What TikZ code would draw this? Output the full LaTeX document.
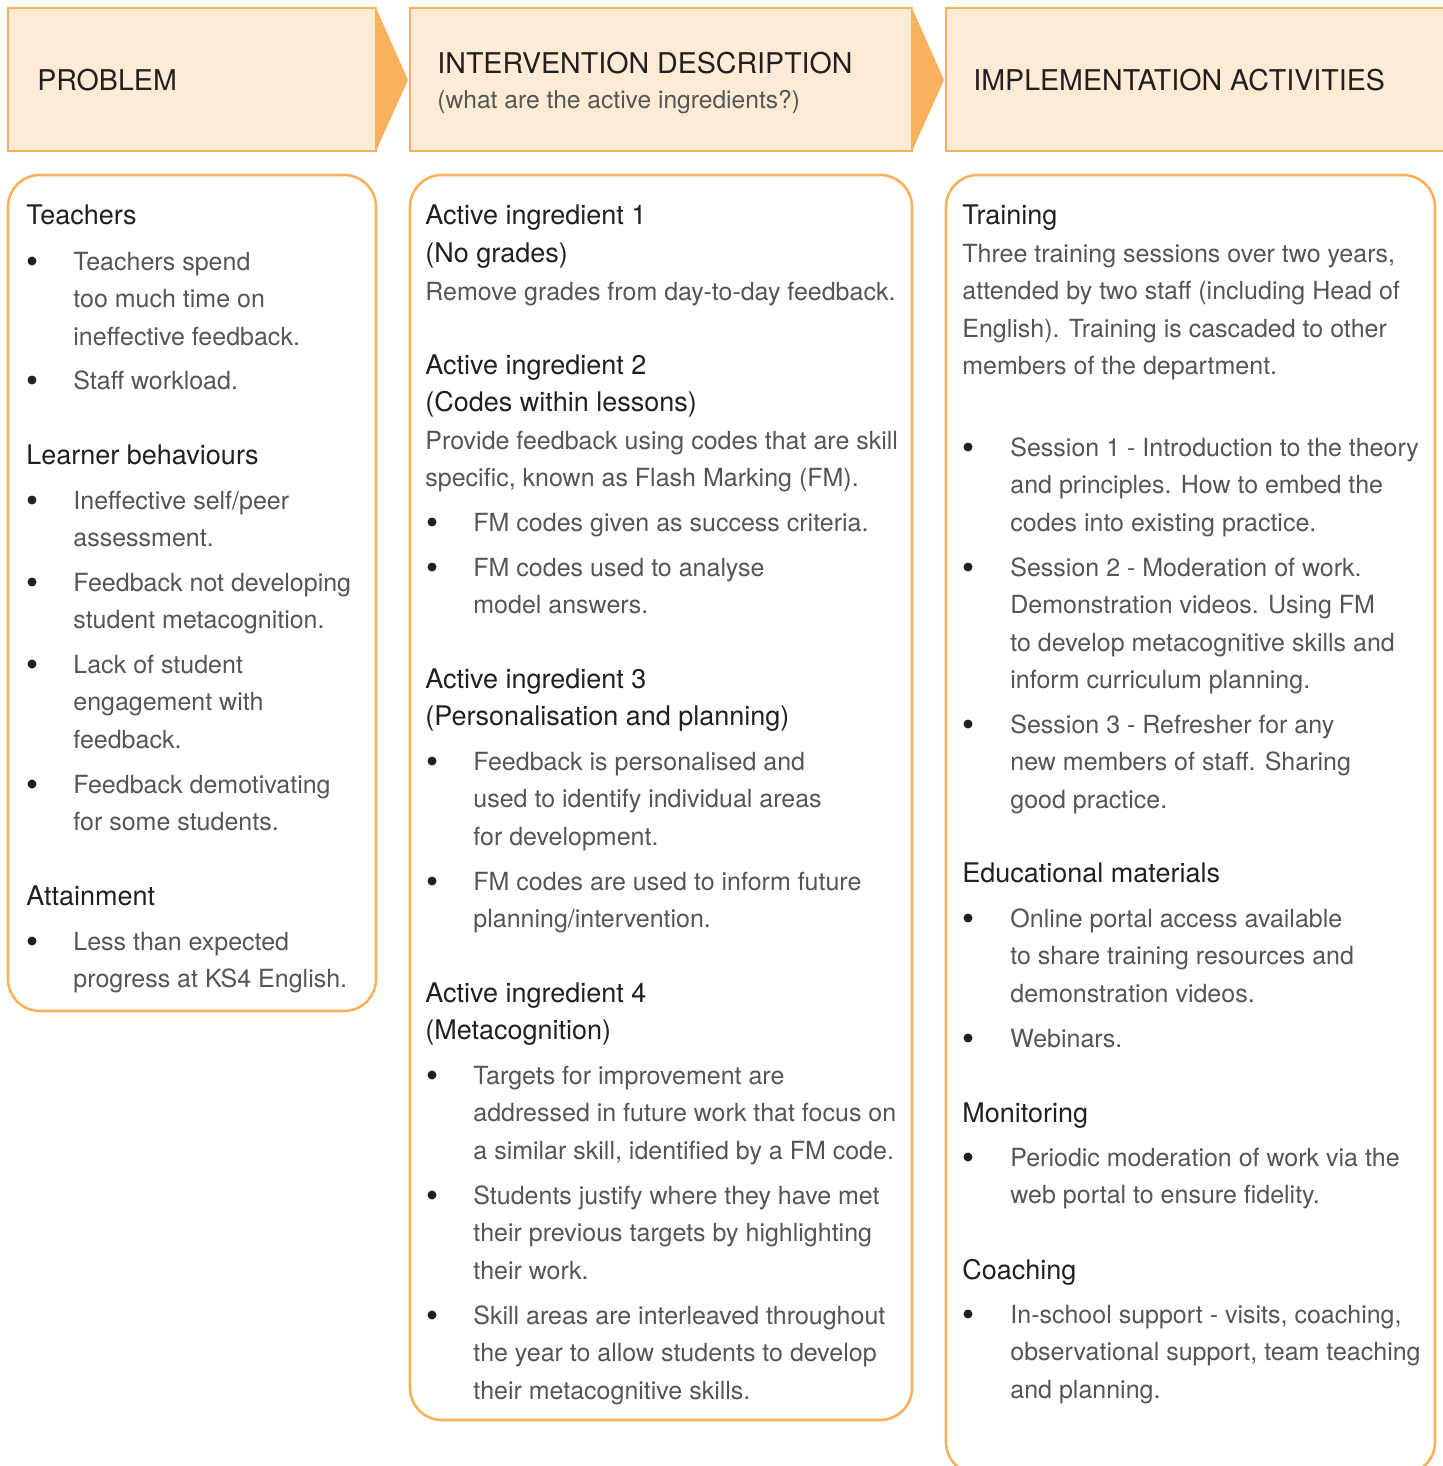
\documentclass[tikz,border=0pt]{standalone}
\usepackage{fontspec}
\setmainfont{TeX Gyre Heros}
\usetikzlibrary{positioning}

\definecolor{bandfill}{HTML}{FDEBD5}
\definecolor{edge}{HTML}{F9B15B}
\definecolor{ink}{HTML}{231F20}
\definecolor{grey}{HTML}{555555}

\begin{document}
\begin{tikzpicture}[x=0.5pt, y=-0.5pt]
\tikzstyle{band}=[draw=edge, fill=bandfill, line width=1pt]
\tikzstyle{tip}=[fill=edge]
\tikzstyle{panel}=[draw=edge, line width=1.3pt, rounded corners=16pt]
\tikzstyle{title}=[anchor=base west, inner sep=0, text=ink, font=\fontsize{14.3}{18}\selectfont]
\tikzstyle{head}=[anchor=base west, inner sep=0, align=left, text=ink, font=\fontsize{13.5}{18.75}\selectfont]
\tikzstyle{txt}=[head, text=grey, font=\fontsize{12.5}{18.75}\selectfont]
\tikzstyle{dot}=[circle, fill=ink, inner sep=0, minimum size=4.5pt]

\useasboundingbox (0,0) rectangle (1443,1466);

% header bands
\draw[band] (8,8) rectangle (376,151);
\fill[tip] (376,8) -- (408,80) -- (376,151) -- cycle;
\draw[band] (410,8) rectangle (912,151);
\fill[tip] (912,8) -- (944,80) -- (912,151) -- cycle;
\draw[band] (946,8) rectangle (1460,151);

\node[title] (prob) at (37,91) {PROBLEM};
\node[title] (desc) at (437,74) {INTERVENTION DESCRIPTION};
\node[txt, font=\fontsize{12.3}{18}\selectfont] (ask) at (437,109) {(what are the active ingredients?)};
\node[title] (impl) at (973,91) {IMPLEMENTATION ACTIVITIES};

% panels
\draw[panel] (8,175) rectangle (376,1011);
\draw[panel] (410,175) rectangle (912,1420);
\draw[panel] (946,175) rectangle (1435,1474);

% problem (multi-line nodes sit on their last line)
\node[head] (teach) at (26,225) {Teachers};
\node[dot] (d11) at (32,261) {}; \node[txt] (b11) at (73,345) {Teachers spend\\too much time on\\ineffective feedback.};
\node[dot] (d12) at (32,380) {}; \node[txt] (b12) at (73,389) {Staff workload.};
\node[head] (learn) at (26,464) {Learner behaviours};
\node[dot] (d13) at (32,500) {}; \node[txt] (b13) at (73,546.5) {Ineffective self/peer\\assessment.};
\node[dot] (d14) at (32,582) {}; \node[txt] (b14) at (73,628.5) {Feedback not developing\\student metacognition.};
\node[dot] (d15) at (32,664) {}; \node[txt] (b15) at (73,748) {Lack of student\\engagement with\\feedback.};
\node[dot] (d16) at (32,784) {}; \node[txt] (b16) at (73,830.5) {Feedback demotivating\\for some students.};
\node[head] (attain) at (26,905) {Attainment};
\node[dot] (d17) at (32,941) {}; \node[txt] (b17) at (73,987.5) {Less than expected\\progress at KS4 English.};

% intervention
\node[head] (ai1) at (425,262.5) {Active ingredient 1\\(No grades)};
\node[txt] (p21) at (425,300) {Remove grades from day-to-day feedback.};
\node[head] (ai2) at (425,411.5) {Active ingredient 2\\(Codes within lessons)};
\node[txt] (p22) at (425,486.5) {Provide feedback using codes that are skill\\specific, known as Flash Marking (FM).};
\node[dot] (d21) at (432,522) {}; \node[txt] (b21) at (473,531) {FM codes given as success criteria.};
\node[dot] (d22) at (432,567) {}; \node[txt] (b22) at (473,613.5) {FM codes used to analyse\\model answers.};
\node[head] (ai3) at (425,725.5) {Active ingredient 3\\(Personalisation and planning)};
\node[dot] (d23) at (432,761) {}; \node[txt] (b23) at (473,845) {Feedback is personalised and\\used to identify individual areas\\for development.};
\node[dot] (d24) at (432,881) {}; \node[txt] (b24) at (473,927.5) {FM codes are used to inform future\\planning/intervention.};
\node[head] (ai4) at (425,1039.5) {Active ingredient 4\\(Metacognition)};
\node[dot] (d25) at (432,1075) {}; \node[txt] (b25) at (473,1159) {Targets for improvement are\\addressed in future work that focus on\\a similar skill, identified by a FM code.};
\node[dot] (d26) at (432,1195) {}; \node[txt] (b26) at (473,1279) {Students justify where they have met\\their previous targets by highlighting\\their work.};
\node[dot] (d27) at (432,1315) {}; \node[txt] (b27) at (473,1399) {Skill areas are interleaved throughout\\the year to allow students to develop\\their metacognitive skills.};

% implementation
\node[head] (train) at (962,225) {Training};
\node[txt] (p31) at (962,374.5) {Three training sessions over two years,\\attended by two staff (including Head of\\English). Training is cascaded to other\\members of the department.};
\node[dot] (d31) at (968,447) {}; \node[txt] (b31) at (1010,531) {Session 1 - Introduction to the theory\\and principles. How to embed the\\codes into existing practice.};
\node[dot] (d32) at (968,567) {}; \node[txt] (b32) at (1010,688.5) {Session 2 - Moderation of work.\\Demonstration videos. Using FM\\to develop metacognitive skills and\\inform curriculum planning.};
\node[dot] (d33) at (968,724) {}; \node[txt] (b33) at (1010,808) {Session 3 - Refresher for any\\new members of staff. Sharing\\good practice.};
\node[head] (edu) at (962,882) {Educational materials};
\node[dot] (d34) at (968,918) {}; \node[txt] (b34) at (1010,1002) {Online portal access available\\to share training resources and\\demonstration videos.};
\node[dot] (d35) at (968,1038) {}; \node[txt] (b35) at (1010,1047) {Webinars.};
\node[head] (mon) at (962,1122) {Monitoring};
\node[dot] (d36) at (968,1157) {}; \node[txt] (b36) at (1010,1203.5) {Periodic moderation of work via the\\web portal to ensure fidelity.};
\node[head] (coach) at (962,1279) {Coaching};
\node[dot] (d37) at (968,1314) {}; \node[txt] (b37) at (1010,1398) {In-school support - visits, coaching,\\observational support, team teaching\\and planning.};

\end{tikzpicture}
\end{document}
